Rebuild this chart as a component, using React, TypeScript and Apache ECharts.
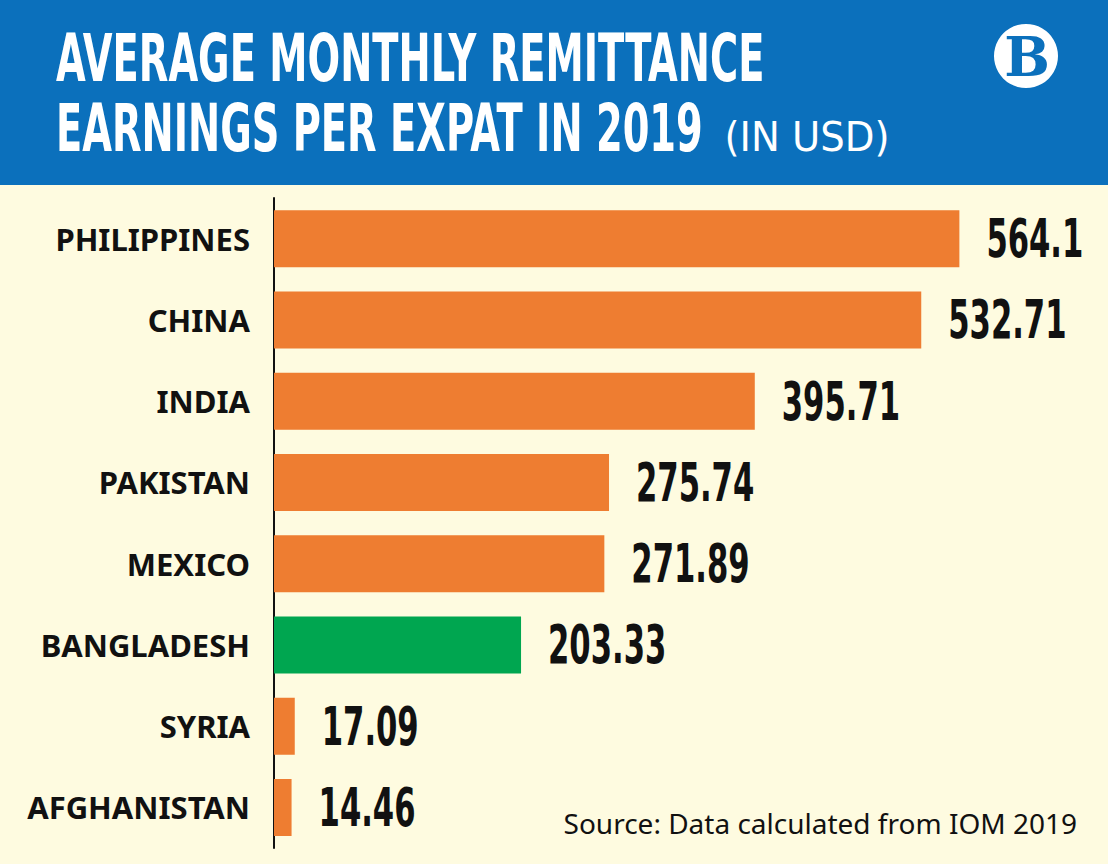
import React, { useEffect, useRef } from 'react';
import * as echarts from 'echarts';

const categories = ['PHILIPPINES', 'CHINA', 'INDIA', 'PAKISTAN', 'MEXICO', 'BANGLADESH', 'SYRIA', 'AFGHANISTAN'];
const values = [564.1, 532.71, 395.71, 275.74, 271.89, 203.33, 17.09, 14.46];
const valueLabels = ['564.1', '532.71', '395.71', '275.74', '271.89', '203.33', '17.09', '14.46'];
const highlightCategory = 'BANGLADESH';
const titleLine1 = 'AVERAGE MONTHLY REMITTANCE';
const titleLine2 = 'EARNINGS PER EXPAT IN 2019';
const titleUnit = '(IN USD)';
const sourceText = 'Source: Data calculated from IOM 2019';

const BLUE = '#0B70BC';
const CREAM = '#FEFBE0';
const ORANGE = '#EE7D31';
const GREEN = '#00A650';
const INK = '#111111';
const COND = '"Liberation Sans Narrow", "DejaVu Sans Condensed", "Liberation Sans", sans-serif';
const SANS = '"Noto Sans", "Open Sans", sans-serif';

function measure(text: string, font: string): number {
  const ctx = document.createElement('canvas').getContext('2d');
  if (!ctx) return 1;
  ctx.font = font;
  return ctx.measureText(text).width || 1;
}

export default function App() {
  const ref = useRef<HTMLDivElement>(null);

  useEffect(() => {
    if (!ref.current) return;
    document.body.style.margin = '0';
    const chart = echarts.init(ref.current, null, { renderer: 'svg' });

    const titleFont = `bold 65px ${COND}`;
    const titleScale = 708 / measure(titleLine1, titleFont);
    const line2W = measure(titleLine2, titleFont) * titleScale;
    const unitFont = `normal 40px ${COND}`;
    const unitScale = 165 / measure(titleUnit, unitFont);
    const valueFont = `bold 54px ${COND}`;
    const valueScale = 97 / measure('564.1', valueFont);

    chart.setOption({
      animation: false,
      backgroundColor: CREAM,
      grid: { left: 274, right: 105, top: 198, height: 650 },
      xAxis: {
        type: 'value',
        min: 0,
        max: 600,
        show: false,
      },
      yAxis: {
        type: 'category',
        data: categories,
        inverse: true,
        axisLine: { show: true, lineStyle: { color: INK, width: 2 } },
        axisTick: { show: false },
        axisLabel: {
          color: INK,
          fontFamily: SANS,
          fontWeight: 'bold',
          fontSize: 31,
          margin: 24,
        },
      },
      graphic: [
        { type: 'rect', shape: { x: 0, y: 0, width: 1108, height: 185 }, style: { fill: BLUE }, z: 0 },
        {
          type: 'text', x: 56, y: 59, scaleX: titleScale,
          style: { text: titleLine1, font: titleFont, fill: '#ffffff', verticalAlign: 'middle', align: 'left' },
        },
        {
          type: 'text', x: 56, y: 129, scaleX: titleScale,
          style: { text: titleLine2, font: titleFont, fill: '#ffffff', verticalAlign: 'middle', align: 'left' },
        },
        {
          type: 'text', x: 56 + line2W + 22, y: 137, scaleX: unitScale,
          style: { text: titleUnit, font: unitFont, fill: '#ffffff', verticalAlign: 'middle', align: 'left' },
        },
        { type: 'circle', shape: { cx: 1026, cy: 56, r: 32 }, style: { fill: '#ffffff' } },
        {
          type: 'text', x: 1027, y: 57,
          style: { text: 'B', font: 'bold 54px "DejaVu Serif", "Liberation Serif", serif', fill: BLUE, align: 'center', verticalAlign: 'middle' },
        },
        {
          type: 'text', x: 1077, y: 823,
          style: { text: sourceText, font: `normal 28px ${SANS}`, fill: INK, align: 'right', verticalAlign: 'middle' },
        },
      ],
      series: [
        {
          type: 'bar',
          barWidth: 57,
          data: values.map((v, i) => ({
            value: v,
            itemStyle: { color: categories[i] === highlightCategory ? GREEN : ORANGE },
          })),
          z: 1,
        },
        {
          type: 'custom',
          data: values.map((v, i) => [v, i]),
          encode: { x: 0, y: 1 },
          z: 3,
          renderItem: (params: any, api: any) => {
            const v = api.value(0);
            const i = api.value(1);
            const p = api.coord([v, i]);
            return {
              type: 'text',
              x: p[0] + 27,
              y: p[1],
              scaleX: valueScale,
              style: {
                text: valueLabels[params.dataIndex],
                font: valueFont,
                fill: INK,
                align: 'left',
                verticalAlign: 'middle',
              },
            };
          },
        },
      ],
    });

    return () => chart.dispose();
  }, []);

  return (
    <div
      ref={ref}
      style={{ position: 'fixed', left: 0, top: 0, width: 1108, height: 864 }}
    />
  );
}
